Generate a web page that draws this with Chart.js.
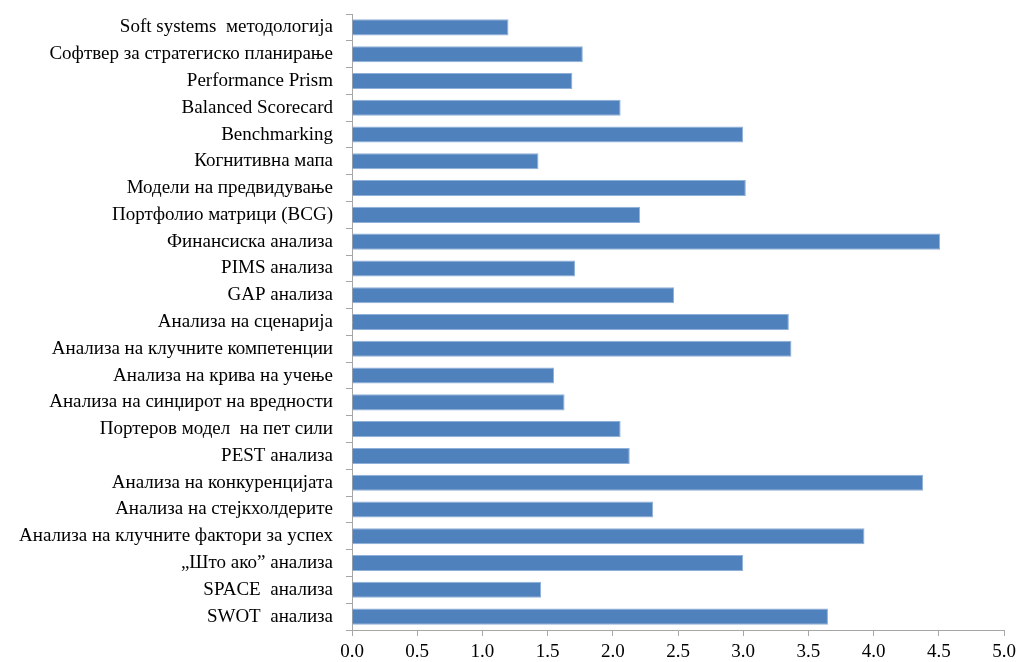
<!DOCTYPE html>
<html>
<head>
<meta charset="utf-8">
<script src="https://cdn.jsdelivr.net/npm/chart.js@4/dist/chart.umd.min.js"></script>
<style>
  html, body { margin: 0; padding: 0; background: #fff; }
  #wrap { width: 1017px; height: 662px; }
</style>
</head>
<body>
<div id="wrap"><canvas id="myChart" width="1017" height="662"></canvas></div>
<script>
/******* data *********/
const methods = [
    "Soft systems  методологија",
    "Софтвер за стратегиско планирање",
    "Performance Prism",
    "Balanced Scorecard",
    "Benchmarking",
    "Когнитивна мапа",
    "Модели на предвидување",
    "Портфолио матрици (BCG)",
    "Финансиска анализа",
    "PIMS анализа",
    "GAP анализа",
    "Анализа на сценарија",
    "Анализа на клучните компетенции",
    "Анализа на крива на учење",
    "Анализа на синџирот на вредности",
    "Портеров модел  на пет сили",
    "PEST анализа",
    "Анализа на конкуренцијата",
    "Анализа на стејкхолдерите",
    "Анализа на клучните фактори за успех",
    "„Што ако” анализа",
    "SPACE  анализа",
    "SWOT  анализа"
];
const scores = [1.20, 1.77, 1.69, 2.06, 3.00, 1.43, 3.02, 2.21, 4.51, 1.71, 2.47, 3.35,
    3.37, 1.55, 1.63, 2.06, 2.13, 4.38, 2.31, 3.93, 3.00, 1.45, 3.65];
const xTicks = [0, 0.5, 1, 1.5, 2, 2.5, 3, 3.5, 4, 4.5, 5];

/******** chart *********/
const serif = "'Liberation Serif', 'Times New Roman', serif";
const axisGray = '#a6a6a6';

// drop the extra room chart.js reserves for the outer tick labels
const noLabelPadding = (axis) => {
    axis.paddingTop = 0;
    axis.paddingBottom = 0;
    axis.paddingLeft = 0;
    axis.paddingRight = 0;
};

const ctx = document.getElementById('myChart').getContext('2d');
const myChart = new Chart(ctx, {
    type: 'bar',
    data: {
        labels: methods,
        datasets: [{
            data: scores,
            backgroundColor: '#4f81bd',
            borderColor: '#8fb0d9',
            borderWidth: 1,
            categoryPercentage: 1.0,
            barPercentage: 0.6
        }]
    },
    options: {
        indexAxis: 'y',
        responsive: false,
        animation: false,
        layout: { padding: { top: 14, right: 13, bottom: 0, left: 0 } },
        plugins: {
            legend: { display: false },
            tooltip: { enabled: false }
        },
        scales: {
            x: {
                min: 0,
                max: 5,
                afterBuildTicks: (axis) => { axis.ticks = xTicks.map(v => ({ value: v })); },
                afterFit: (axis) => { axis.height = 32; noLabelPadding(axis); },
                grid: { drawOnChartArea: false, drawTicks: true, tickLength: 6, color: axisGray },
                border: { display: true, color: axisGray },
                ticks: {
                    color: '#000',
                    padding: 5,
                    maxRotation: 0,
                    font: { family: serif, size: 19 },
                    callback: (v) => Number(v).toFixed(1)
                }
            },
            y: {
                afterFit: (axis) => { axis.width = 352; noLabelPadding(axis); },
                grid: { drawOnChartArea: false, drawTicks: true, tickLength: 6, color: axisGray, offset: true },
                border: { display: true, color: axisGray },
                ticks: {
                    color: '#000',
                    padding: 13,
                    autoSkip: false,
                    font: { family: serif, size: 19 }
                }
            }
        }
    }
});
</script>
</body>
</html>
